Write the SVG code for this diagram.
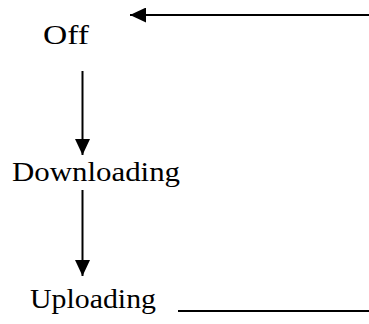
<svg xmlns="http://www.w3.org/2000/svg" width="369" height="324" viewBox="0 0 369 324">
  <style>
    .label { font-family: "Liberation Serif", "DejaVu Serif", serif; font-size: 28px; fill: #000; }
    .edge { stroke: #000; stroke-width: 2; fill: none; }
  </style>
  <defs>
    <marker id="head" viewBox="0 0 16 15" refX="16" refY="7.5" markerWidth="16" markerHeight="15" markerUnits="userSpaceOnUse" orient="auto">
      <path d="M0,0 L16,7.5 L0,15 Z" fill="#000"/>
    </marker>
  </defs>
  <rect width="369" height="324" fill="#fff"/>

  <g id="connectors">
    <!-- return path: Uploading back to Off -->
    <line class="edge" x1="178" y1="311" x2="369" y2="311"/>
    <line class="edge" x1="369" y1="15" x2="130" y2="15" marker-end="url(#head)"/>
    <!-- Off to Downloading -->
    <line class="edge" x1="82.5" y1="71" x2="82.5" y2="155" marker-end="url(#head)"/>
    <!-- Downloading to Uploading -->
    <line class="edge" x1="82.5" y1="190" x2="82.5" y2="276" marker-end="url(#head)"/>
  </g>

  <g id="off">
    <text class="label" x="43" y="44" textLength="46" lengthAdjust="spacingAndGlyphs">Off</text>
  </g>
  <g id="downloading">
    <text class="label" x="12" y="181" textLength="168" lengthAdjust="spacingAndGlyphs">Downloading</text>
  </g>
  <g id="uploading">
    <text class="label" x="30" y="308" textLength="126" lengthAdjust="spacingAndGlyphs">Uploading</text>
  </g>
</svg>
